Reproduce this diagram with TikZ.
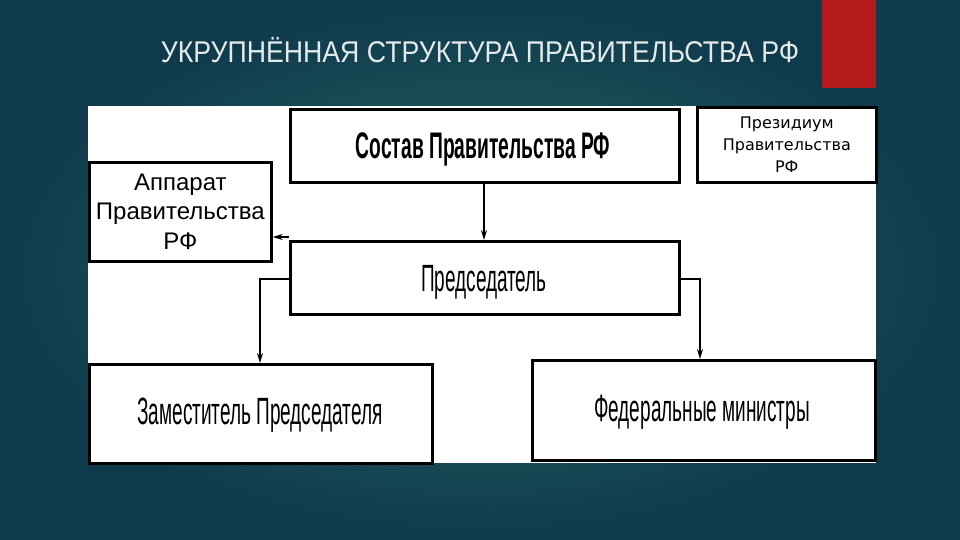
\documentclass[tikz,border=0pt]{standalone}
\usepackage{fontspec}
\setmainfont{Liberation Sans}
\newfontfamily\titlef[FakeStretch=0.89]{Liberation Sans}
\newfontfamily\condb[FakeStretch=0.52]{Liberation Sans Bold}
\newfontfamily\condr[FakeStretch=0.5]{Liberation Sans}
\newfontfamily\presf{DejaVu Sans}
\usetikzlibrary{arrows.meta}
\definecolor{bginner}{HTML}{2B6A66}
\definecolor{bgouter}{HTML}{0F3A4C}
\definecolor{redbar}{HTML}{B51A1A}
\definecolor{titlegray}{HTML}{E2EAEA}
\tikzset{
  box/.style={draw=black, line width=2.6pt, fill=white, anchor=north west, inner sep=0pt, align=center},
  conn/.style={draw=black, line width=1.6pt, -{Stealth[length=10pt,width=6pt]}},
}
\begin{document}
\begin{tikzpicture}[x=1pt,y=-1pt]
\useasboundingbox (0,0) rectangle (960,540);
\shade[inner color=bginner, outer color=bgouter] (0,0) rectangle (960,540);
\fill[redbar] (822,0) rectangle (876,88);
\node[text=titlegray, font=\titlef\fontsize{30}{34}\selectfont, anchor=base] (title) at (480,63) {УКРУПНЁННАЯ СТРУКТУРА ПРАВИТЕЛЬСТВА РФ};
\fill[white] (88,106) rectangle (876,463);
\node[box, minimum width=389pt, minimum height=73pt] (sostav) at (289,108) {};
\node[font=\condb\fontsize{37}{40}\selectfont, anchor=base] (sostavt) at (483,159) {Состав Правительства РФ};
\node[box, minimum width=179pt, minimum height=75pt, font=\presf\fontsize{16}{22}\selectfont] (prez) at (696,106) {Президиум\\Правительства\\РФ};
\node[box, minimum width=182pt, minimum height=99pt, font=\fontsize{24}{29.5}\selectfont] (apparat) at (88,161) {Аппарат\\Правительства\\РФ};
\node[box, minimum width=389pt, minimum height=73pt] (pred) at (289,240) {};
\node[font=\condr\fontsize{38}{40}\selectfont, anchor=base] (predt) at (484,291) {Председатель};
\node[box, minimum width=343pt, minimum height=99pt] (zam) at (88,363) {};
\node[font=\condr\fontsize{38}{40}\selectfont, anchor=base] (zamt) at (260,424) {Заместитель Председателя};
\node[box, minimum width=343pt, minimum height=100pt] (fed) at (531,359) {};
\node[font=\condr\fontsize{38}{40}\selectfont, anchor=base] (fedt) at (702,421) {Федеральные министры};
\coordinate (c1) at (484,181);
\draw[conn] (sostav.south -| c1) -- (pred.north -| c1);
\draw[conn] (pred.north west) ++(0,-3) -- (apparat.east |- 0,237);
\coordinate (lz) at (260,279);
\coordinate (rf) at (700,279);
\draw[conn] (pred.west |- lz) -- (lz) -- (zam.north -| lz);
\draw[conn] (pred.east |- rf) -- (rf) -- (fed.north -| rf);
\end{tikzpicture}
\end{document}
